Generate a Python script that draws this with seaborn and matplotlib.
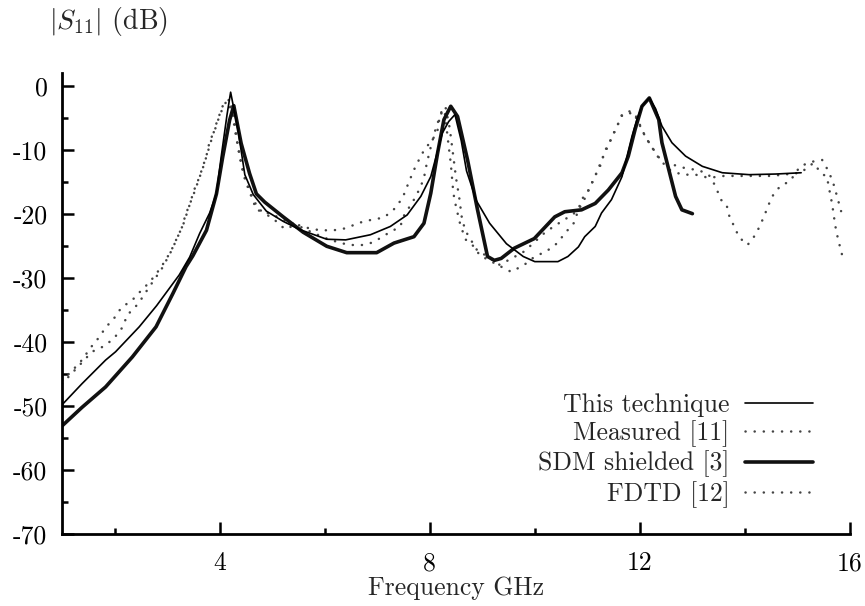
import numpy as np
import pandas as pd
import matplotlib
matplotlib.use("Agg")
import matplotlib.pyplot as plt
import seaborn as sns
from matplotlib.ticker import MultipleLocator

# ---------------- data ----------------
tech_x = [1.0, 1.38, 1.83, 2.02, 2.47, 2.8, 3.23, 3.43, 3.62, 3.81, 3.87, 3.94, 4.03, 4.14, 4.21,
          4.35, 4.48, 4.64, 4.89, 5.21, 5.53, 6.04, 6.4, 6.87, 7.25, 7.57, 7.83, 8.02, 8.14,
          8.24, 8.36, 8.48, 8.6, 8.7, 8.89, 9.14, 9.46, 9.78, 10.0, 10.44, 10.63, 10.83, 10.95,
          11.15, 11.27, 11.46, 11.66, 11.85, 11.95, 12.04, 12.18, 12.3, 12.42, 12.61, 12.87,
          13.19, 13.57, 14.08, 14.59, 15.07]
tech_y = [-49.8, -46.5, -42.8, -41.5, -37.6, -34.3, -29.5, -26.7, -23.0, -19.8, -18.4, -16.7, -11.0, -4.5, -0.9,
          -6.8, -13.8, -16.9, -19.5, -21.1, -22.4, -23.9, -24.0, -23.2, -21.9, -20.1, -17.2, -14.1, -10.4,
          -7.3, -5.5, -4.4, -8.5, -13.2, -17.9, -21.4, -24.6, -26.6, -27.4, -27.4, -26.6, -25.1, -23.5,
          -21.9, -19.8, -17.7, -14.1, -7.8, -5.0, -3.1, -1.8, -3.5, -6.2, -8.8, -10.9,
          -12.5, -13.5, -13.8, -13.7, -13.5]

meas_x = [1.0, 1.2, 1.39, 1.54, 1.7, 1.84, 1.98, 2.13, 2.34, 2.51, 2.67, 2.83, 2.98, 3.1, 3.2, 3.3,
          3.43, 3.51, 3.6, 3.68, 3.76, 3.81, 3.91, 4.01, 4.13, 4.26, 4.33, 4.42, 4.57, 4.73, 5.05,
          5.24, 5.47, 5.66, 5.91, 6.17, 6.39, 6.67, 6.87, 7.13, 7.32, 7.48, 7.62, 7.73, 7.89, 8.04,
          8.14, 8.2, 8.28, 8.35, 8.4, 8.45, 8.5, 8.59, 8.69, 8.85, 8.95, 9.29, 9.55, 9.8, 10.0,
          10.22, 10.43, 10.57, 10.75, 10.89, 11.03, 11.16, 11.27, 11.32, 11.43, 11.53, 11.67, 11.88,
          12.1, 12.23, 12.37, 12.61, 12.87, 13.12, 13.31, 13.44, 13.54, 13.65, 13.7, 13.89, 14.05,
          14.21, 14.35, 14.51, 14.67, 14.86, 15.05, 15.26, 15.47, 15.58, 15.67, 15.74, 15.83]
meas_y = [-46.0, -44.4, -42.7, -40.9, -39.3, -37.6, -36.4, -34.6, -33.4, -31.9, -30.6, -28.9, -27.1, -25.3, -23.5, -21.8,
          -18.5, -16.3, -14.5, -12.6, -10.5, -8.6, -6.8, -4.3, -2.3, -4.1, -8.3, -12.6, -16.4, -19.1, -20.9,
          -22.3, -21.6, -22.1, -22.5, -22.5, -22.2, -21.3, -20.9, -20.5, -19.2, -17.5, -14.6, -12.5, -10.0, -8.4,
          -7.3, -4.2, -3.6, -8.6, -12.0, -16.7, -18.8, -21.9, -24.0, -25.1, -26.4, -27.9, -29.0, -27.9, -26.6,
          -25.8, -24.5, -23.0, -21.3, -17.7, -16.2, -13.8, -12.0, -10.3, -8.6, -6.8, -4.4, -4.1,
          -7.8, -9.5, -11.2, -12.2, -12.8, -13.1, -13.8, -15.6, -17.7, -18.5, -20.2, -23.6, -24.8,
          -23.1, -20.6, -17.3, -15.6, -14.8, -12.5, -11.8, -11.5, -13.1, -14.8, -16.8, -19.5]

sdm_x = [1.0, 1.38, 1.83, 2.34, 2.79, 3.11, 3.36, 3.49, 3.75, 3.94, 4.06, 4.19, 4.27, 4.41, 4.57,
         4.7, 4.86, 5.21, 5.59, 6.04, 6.42, 6.99, 7.32, 7.7, 7.89, 8.02, 8.15, 8.27, 8.4, 8.53,
         8.72, 8.91, 9.1, 9.23, 9.36, 9.61, 9.99, 10.38, 10.57, 10.89, 11.15, 11.4, 11.66, 11.78,
         11.91, 12.04, 12.18, 12.36, 12.42, 12.55, 12.68, 12.8, 13.0]
sdm_y = [-53.1, -50.2, -47.0, -42.3, -37.6, -32.4, -28.2, -26.5, -22.5, -16.8, -11.0, -5.3, -3.0, -8.9, -13.6,
         -16.8, -18.1, -20.4, -22.8, -25.0, -26.0, -26.0, -24.5, -23.5, -21.4, -16.7, -10.4, -5.2, -3.1, -4.7,
         -11.5, -19.3, -26.6, -27.2, -26.9, -25.3, -23.8, -20.4, -19.6, -19.3, -18.3, -16.2, -13.5, -10.9,
         -6.7, -3.1, -1.8, -5.2, -8.8, -13.0, -17.2, -19.3, -19.9]

fdtd_x = [1.0, 1.39, 1.57, 1.78, 1.98, 2.14, 2.25, 2.45, 2.65, 2.9, 3.09, 3.29, 3.35, 3.5, 3.7, 3.85,
          3.95, 4.08, 4.2, 4.3, 4.37, 4.48, 4.7, 5.0, 5.25, 5.5, 5.75, 6.1, 6.46, 6.71, 6.92, 7.18,
          7.44, 7.51, 7.64, 7.73, 7.83, 7.89, 7.94, 8.0, 8.1, 8.2, 8.3, 8.38, 8.45, 8.5, 8.56, 8.62,
          8.71, 8.9, 9.1, 9.33, 9.56, 9.8, 10.0, 10.2, 10.38, 10.57, 10.73, 10.9, 11.02, 11.15, 11.3,
          11.45, 11.58, 11.66, 11.8, 11.9, 12.1, 12.22, 12.36, 12.55, 12.8, 13.06, 13.31, 13.6, 14.0,
          14.5, 15.06, 15.3, 15.47, 15.56, 15.61, 15.66, 15.72, 15.77, 15.86]
fdtd_y = [-46.5, -43.1, -41.5, -40.7, -39.5, -37.8, -35.7, -34.0, -31.5, -28.5, -25.6, -21.9, -20.1, -17.0, -12.3, -8.2,
          -5.5, -2.6, -2.0, -7.2, -10.4, -14.5, -19.3, -20.0, -21.0, -21.8, -22.8, -24.0, -24.8, -24.8, -24.4, -23.1,
          -21.9, -20.2, -18.5, -17.3, -15.6, -14.3, -12.2, -10.1, -7.0, -4.5, -3.2, -6.5, -11.0, -14.3, -17.3, -21.1,
          -23.0, -25.6, -26.6, -27.9, -26.9, -25.8, -24.3, -22.8, -21.8, -20.8, -20.0, -18.5, -16.2, -14.0, -11.0,
          -8.3, -6.0, -4.4, -3.9, -4.2, -7.8, -9.4, -11.2, -13.0, -13.8, -13.8, -14.3, -14.0, -14.0,
          -14.0, -13.5, -12.0, -13.7, -14.1, -16.3, -18.4, -21.8, -23.8, -26.7]

labels = ["This technique", "Measured [11]", "SDM shielded [3]", "FDTD [12]"]
x_ticks = [4, 8, 12, 16]
x_tick_labels = ["4", "8", "12", "16"]
y_ticks = [0, -10, -20, -30, -40, -50, -60, -70]
y_tick_labels = ["0", "-10", "-20", "-30", "-40", "-50", "-60", "-70"]

# ---------------- style ----------------
sns.set_style("ticks")
plt.rcParams["font.family"] = ["cmr10", "DejaVu Serif"]
plt.rcParams["mathtext.fontset"] = "cm"
plt.rcParams["axes.formatter.use_mathtext"] = True

FS = 18.5
fig = plt.figure(figsize=(8.65, 6.06), dpi=100)
ax = fig.add_axes([62 / 865, 72 / 606, (850 - 62) / 865, (534 - 73) / 606])

dot_kw = dict(linestyle=(0, (0.05, 3.6)), dash_capstyle="round", linewidth=1.8, color="#444444")

df_tech = pd.DataFrame({"f": tech_x, "s": tech_y})
df_meas = pd.DataFrame({"f": meas_x, "s": meas_y})
df_sdm = pd.DataFrame({"f": sdm_x, "s": sdm_y})
df_fdtd = pd.DataFrame({"f": fdtd_x, "s": fdtd_y})

sns.lineplot(data=df_meas, x="f", y="s", ax=ax, estimator=None, sort=False, label=labels[1], **dot_kw)
sns.lineplot(data=df_fdtd, x="f", y="s", ax=ax, estimator=None, sort=False, label=labels[3], **dot_kw)
sns.lineplot(data=df_sdm, x="f", y="s", ax=ax, estimator=None, sort=False, label=labels[2],
             color="#111111", linewidth=2.6)
sns.lineplot(data=df_tech, x="f", y="s", ax=ax, estimator=None, sort=False, label=labels[0],
             color="black", linewidth=1.2)

ax.set_xlim(1, 16)
ax.set_ylim(-70, 2.1)
ax.set_xticks(x_ticks)
ax.set_xticklabels(x_tick_labels)
ax.set_yticks(y_ticks)
ax.set_yticklabels(y_tick_labels)
ax.xaxis.set_minor_locator(MultipleLocator(2))
ax.yaxis.set_minor_locator(MultipleLocator(5))

for side in ["top", "right"]:
    ax.spines[side].set_visible(False)
for side in ["left", "bottom"]:
    ax.spines[side].set_linewidth(2.0)
    ax.spines[side].set_color("black")

ax.tick_params(which="major", direction="in", length=8.6, width=1.8, labelsize=FS, colors="black")
ax.tick_params(which="minor", direction="in", length=4.5, width=1.8, colors="black")
ax.tick_params(axis="y", which="major", pad=10.5)
ax.tick_params(axis="x", which="major", pad=12.5)

ax.set_xlabel("Frequency GHz", fontsize=FS, labelpad=1)
ax.set_ylabel("")
fig.text(49 / 865, 1 - 22 / 606, r"$|S_{11}|$ (dB)", fontsize=20, ha="left", va="center")

handles, labs = ax.get_legend_handles_labels()
hmap = dict(zip(labs, handles))
leg = ax.legend([hmap[l] for l in labels], labels, loc="upper right",
                bbox_to_anchor=((813 - 62) / (850 - 62), (534 - 393) / (534 - 73)),
                frameon=False, fontsize=FS, markerfirst=False, handlelength=2.65,
                handletextpad=0.6, labelspacing=0.14, borderpad=0, borderaxespad=0)

fig.savefig("out.png", dpi=100)
